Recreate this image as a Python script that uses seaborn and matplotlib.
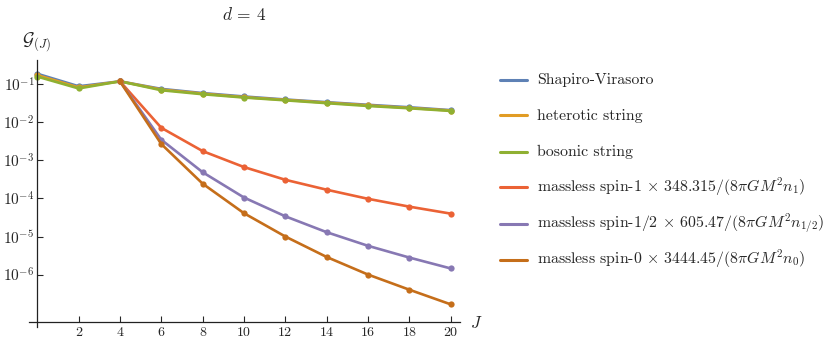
import numpy as np
import pandas as pd
import matplotlib
matplotlib.use("Agg")
import matplotlib.pyplot as plt
from matplotlib.lines import Line2D
import seaborn as sns

# --- du lieu doc tu hinh ---
J_all = [0, 2, 4, 6, 8, 10, 12, 14, 16, 18, 20]
J_massless = [4, 6, 8, 10, 12, 14, 16, 18, 20]

shapiro = [0.19, 0.089, 0.12, 0.076, 0.059, 0.048, 0.040, 0.034, 0.029, 0.025, 0.021]
heterotic = [0.175, 0.083, 0.12, 0.073, 0.057, 0.046, 0.039, 0.033, 0.028, 0.024, 0.0205]
bosonic = [0.16, 0.078, 0.12, 0.070, 0.055, 0.045, 0.038, 0.032, 0.027, 0.0235, 0.020]
spin1 = [0.12, 0.0072, 0.00176, 0.00067, 0.00031, 0.00017, 9.8e-5, 6.1e-5, 4.0e-5]
spin_half = [0.12, 0.0035, 0.00049, 0.000106, 3.4e-5, 1.3e-5, 5.7e-6, 2.8e-6, 1.45e-6]
spin0 = [0.12, 0.0027, 0.000245, 4.1e-5, 1.0e-5, 2.9e-6, 1.0e-6, 4.0e-7, 1.65e-7]

labels = [
    "Shapiro-Virasoro",
    "heterotic string",
    "bosonic string",
    r"massless spin-1 $\times$ 348.315/$(8\pi G M^2 n_1)$",
    r"massless spin-1/2 $\times$ 605.47/$(8\pi G M^2 n_{1/2})$",
    r"massless spin-0 $\times$ 3444.45/$(8\pi G M^2 n_0)$",
]
colors = ["#5E81B5", "#E19C24", "#8FB032", "#EB6235", "#8778B3", "#C56E1A"]

yticks = [1e-1, 1e-2, 1e-3, 1e-4, 1e-5, 1e-6]
ytick_labels = [r"$10^{-1}$", r"$10^{-2}$", r"$10^{-3}$", r"$10^{-4}$", r"$10^{-5}$", r"$10^{-6}$"]
xticks = [2, 4, 6, 8, 10, 12, 14, 16, 18, 20]

# bang dang long cho seaborn
series = [shapiro, heterotic, bosonic, spin1, spin_half, spin0]
frames = []
for lab, vals in zip(labels, series):
    xs = J_all if len(vals) == len(J_all) else J_massless
    frames.append(pd.DataFrame({"J": xs, "G": vals, "series": lab}))
df = pd.concat(frames, ignore_index=True)

sns.set_theme(style="ticks")
plt.rcParams["font.family"] = "serif"
plt.rcParams["font.serif"] = ["cmr10", "DejaVu Serif"]
plt.rcParams["mathtext.fontset"] = "cm"
plt.rcParams["axes.unicode_minus"] = False

W, H = 830, 341
fig = plt.figure(figsize=(W / 100, H / 100), dpi=100)
ax = fig.add_axes([29 / W, (H - 326.7) / H, 431 / W, 266.7 / H])

sns.lineplot(
    data=df, x="J", y="G", hue="series", hue_order=labels,
    palette=colors, marker="o", markersize=4.5, markeredgewidth=0,
    linewidth=1.9, legend=False, ax=ax,
)

ax.set_yscale("log")
ax.set_xlim(-0.4, 20.45)
ax.set_ylim(10 ** -7.37, 10 ** -0.36)

# truc kieu Mathematica
for s in ["top", "right"]:
    ax.spines[s].set_visible(False)
ax.spines["left"].set_position(("data", 0))
ax.spines["bottom"].set_position(("data", 10 ** -7.24))
for s in ["left", "bottom"]:
    ax.spines[s].set_linewidth(0.9)
    ax.spines[s].set_color("#222222")

ax.set_yticks(yticks)
ax.set_yticklabels(ytick_labels)
ax.yaxis.set_minor_locator(matplotlib.ticker.NullLocator())
ax.set_xticks(xticks)
ax.set_xticklabels([str(x) for x in xticks])
ax.tick_params(axis="y", direction="in", length=4, width=0.8, labelsize=11, pad=2)
ax.tick_params(axis="x", direction="in", length=4, width=0.8, labelsize=10, pad=4)
ax.set_xlabel("")
ax.set_ylabel("")
ax.grid(False)

fig.text(244.5 / W, 1 - 15 / H, r"$d$ = 4", ha="center", va="center", fontsize=12.5)
fig.text(37 / W, 1 - 42 / H, r"$\mathcal{G}_{(J)}$", ha="center", va="center", fontsize=13)
fig.text(476 / W, 1 - 323 / H, r"$J$", ha="center", va="center", fontsize=12)

# chu giai: cac dong cach deu nhau
for i, (lab, c) in enumerate(zip(labels, colors)):
    yc = 1 - (79.5 + 36 * i) / H
    fig.add_artist(Line2D([500 / W, 527 / W], [yc, yc], color=c, lw=2.2,
                          transform=fig.transFigure))
    fig.text(537 / W, yc - 4.2 / H, lab, ha="left", va="baseline", fontsize=11.4)

fig.savefig("out.png", dpi=100)
